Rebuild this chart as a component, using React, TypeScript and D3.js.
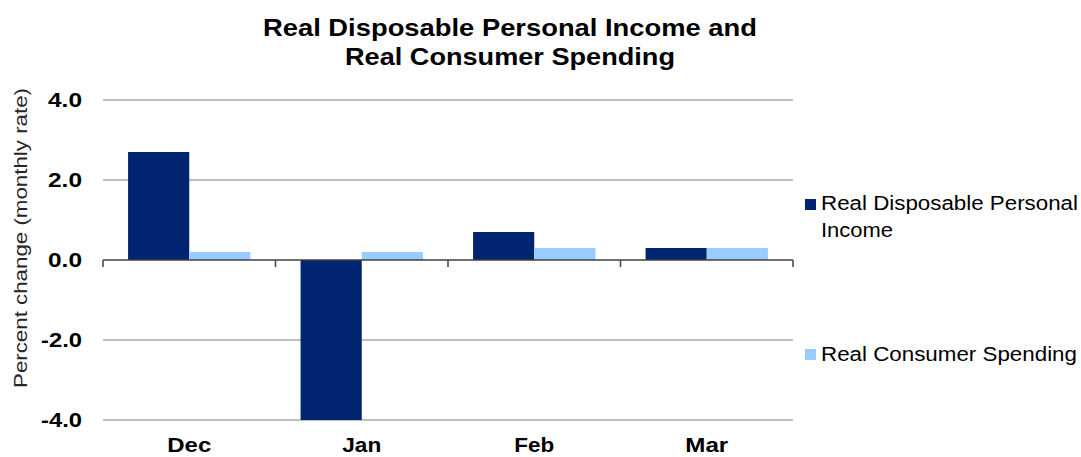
import React from "react";
import * as d3 from "d3";

const categories = ["Dec", "Jan", "Feb", "Mar"];
const seriesNames = ["Real Disposable Personal Income", "Real Consumer Spending"];
const incomeValues = [2.7, -4.0, 0.7, 0.3];
const spendingValues = [0.2, 0.2, 0.3, 0.3];
const yTicks = [4.0, 2.0, 0.0, -2.0, -4.0];
const colors = ["#002470", "#99CCFF"];

const W = 1081;
const H = 457;
const plot = { left: 103, right: 793, top: 100, bottom: 420 };

const catLabelWidth: Record<string, number> = { Dec: 44, Jan: 39, Feb: 40, Mar: 43 };

export default function App() {
  const x = d3.scaleBand<string>().domain(categories).range([plot.left, plot.right]).paddingInner(0).paddingOuter(0);
  const y = d3.scaleLinear().domain([-4, 4]).range([plot.bottom, plot.top]);
  const inner = d3.scaleBand<string>().domain(seriesNames).range([0, x.bandwidth()]).paddingOuter(0.41).paddingInner(0);
  const series = [incomeValues, spendingValues];
  const font = "'Liberation Sans', Arial, sans-serif";
  const boundaries = [...categories.map((c) => x(c)!), plot.right];

  return (
    <svg width={W} height={H} style={{ position: "absolute", left: 0, top: 0 }} fontFamily={font}>
      <rect width={W} height={H} fill="#fff" />
      <text x={510} y={36} textAnchor="middle" fontSize={24.5} fontWeight="bold" textLength={494} lengthAdjust="spacingAndGlyphs">
        Real Disposable Personal Income and
      </text>
      <text x={510} y={65} textAnchor="middle" fontSize={24.5} fontWeight="bold" textLength={330} lengthAdjust="spacingAndGlyphs">
        Real Consumer Spending
      </text>
      {yTicks.filter((t) => t !== 0).map((t) => (
        <line key={t} x1={plot.left} x2={plot.right} y1={y(t)} y2={y(t)} stroke="#BFBFBF" strokeWidth={2} />
      ))}
      {yTicks.map((t) => (
        <text
          key={"l" + t}
          x={82}
          y={y(t) + 7}
          textAnchor="end"
          fontSize={20}
          fontWeight="bold"
          textLength={t < 0 ? 41 : 34}
          lengthAdjust="spacingAndGlyphs"
        >
          {t.toFixed(1)}
        </text>
      ))}
      {series.map((vals, si) =>
        categories.map((c, ci) => {
          const v = vals[ci];
          const x0 = x(c)! + inner(seriesNames[si])!;
          return (
            <rect
              key={si + "-" + ci}
              x={x0}
              y={Math.min(y(v), y(0))}
              width={inner.bandwidth()}
              height={Math.abs(y(v) - y(0))}
              fill={colors[si]}
            />
          );
        })
      )}
      <line x1={plot.left} x2={plot.right} y1={y(0)} y2={y(0)} stroke="#404040" strokeWidth={1.5} />
      {boundaries.map((b, i) => (
        <line key={"t" + i} x1={b} x2={b} y1={y(0)} y2={y(0) + 7} stroke="#404040" strokeWidth={1.5} />
      ))}
      {categories.map((c) => (
        <text
          key={"c" + c}
          x={x(c)! + x.bandwidth() / 2}
          y={452}
          textAnchor="middle"
          fontSize={19.5}
          fontWeight="bold"
          textLength={catLabelWidth[c]}
          lengthAdjust="spacingAndGlyphs"
        >
          {c}
        </text>
      ))}
      <text
        transform={`translate(27,238) rotate(-90)`}
        textAnchor="middle"
        fontSize={17.5}
        fill="#262626"
        textLength={300}
        lengthAdjust="spacingAndGlyphs"
      >
        Percent change (monthly rate)
      </text>
      <rect x={805} y={199} width={11} height={11} fill={colors[0]} />
      <text x={821} y={210} fontSize={19.5} textLength={257} lengthAdjust="spacingAndGlyphs">Real Disposable Personal</text>
      <text x={821} y={237} fontSize={19.5} textLength={72} lengthAdjust="spacingAndGlyphs">Income</text>
      <rect x={805} y={349} width={11} height={11} fill={colors[1]} />
      <text x={821} y={361} fontSize={19.5} textLength={256} lengthAdjust="spacingAndGlyphs">Real Consumer Spending</text>
    </svg>
  );
}
